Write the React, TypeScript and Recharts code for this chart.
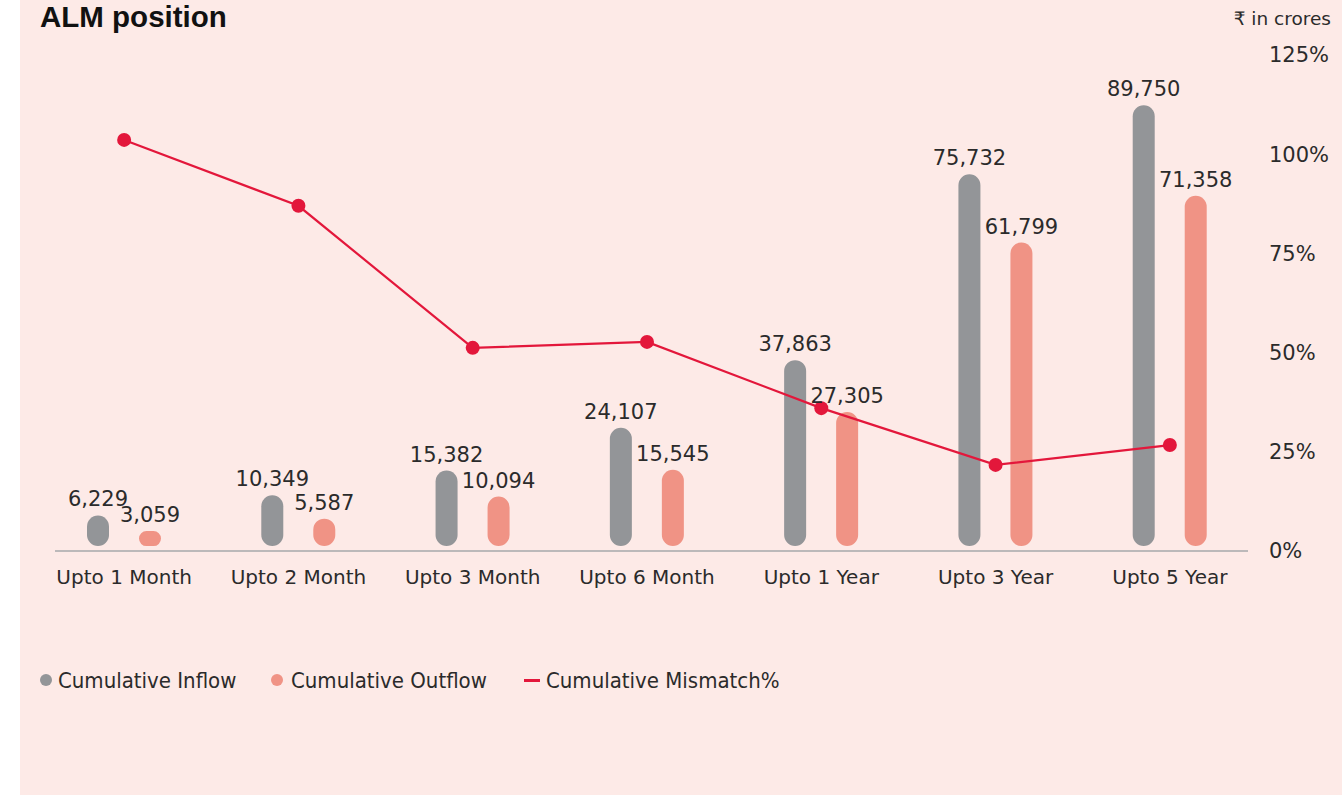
import React from 'react';
import { ComposedChart, Bar, Line, XAxis, YAxis, LabelList, Legend } from 'recharts';

const categories = ['Upto 1 Month', 'Upto 2 Month', 'Upto 3 Month', 'Upto 6 Month', 'Upto 1 Year', 'Upto 3 Year', 'Upto 5 Year'];
const inflow = [6229, 10349, 15382, 24107, 37863, 75732, 89750];
const outflow = [3059, 5587, 10094, 15545, 27305, 61799, 71358];
const mismatch = [103.6, 87.0, 51.2, 52.7, 36.0, 21.7, 26.7];
const percentTicks = [0, 25, 50, 75, 100, 125];

const data = categories.map((name, i) => ({
  name,
  inflow: inflow[i],
  outflow: outflow[i],
  mismatch: mismatch[i],
}));

const GRAY = '#939598';
const SALMON = '#f09385';
const RED = '#e3173b';
const TEXT = '#2b2b2b';
const BG = '#fdeae7';
const FONT = '"DejaVu Sans", sans-serif';

const fmt = (v: number) => v.toLocaleString('en-US');

const LegendContent = () => (
  <div style={{ position: 'relative', height: 30, fontFamily: '"DejaVu Sans Condensed", "DejaVu Sans", sans-serif', fontSize: 22, color: TEXT }}>
    <div style={{ position: 'absolute', left: 40, top: 0, display: 'flex', alignItems: 'center', height: 30 }}>
      <span style={{ width: 12, height: 12, borderRadius: 6, background: GRAY, display: 'inline-block', marginRight: 6 }} />
      <span>Cumulative Inflow</span>
    </div>
    <div style={{ position: 'absolute', left: 271, top: 0, display: 'flex', alignItems: 'center', height: 30 }}>
      <span style={{ width: 12, height: 12, borderRadius: 6, background: SALMON, display: 'inline-block', marginRight: 8 }} />
      <span>Cumulative Outflow</span>
    </div>
    <div style={{ position: 'absolute', left: 524, top: 0, display: 'flex', alignItems: 'center', height: 30 }}>
      <span style={{ width: 16, height: 3, background: RED, display: 'inline-block', marginRight: 6 }} />
      <span>Cumulative Mismatch%</span>
    </div>
  </div>
);

export default function App() {
  return (
    <div style={{ position: 'absolute', left: 0, top: 0, width: 1342, height: 795, background: '#ffffff', overflow: 'hidden', fontFamily: FONT }}>
      <div style={{ position: 'absolute', left: 20, top: 0, width: 1322, height: 795, background: BG }} />
      <div style={{ position: 'absolute', left: 40, top: 0, fontFamily: '"Liberation Sans", Arial, sans-serif', fontWeight: 700, fontSize: 29.5, lineHeight: '34px', color: '#111' }}>
        ALM position
      </div>
      <div style={{ position: 'absolute', right: 11, top: 8, fontSize: 18.5, lineHeight: '22px', color: TEXT }}>
        ₹ in crores
      </div>
      <div style={{ position: 'absolute', left: 0, top: 0 }}>
        <ComposedChart
          width={1342}
          height={795}
          data={data}
          margin={{ top: 55, right: 0, left: 37, bottom: 174 }}
          barSize={22}
          barGap={30}
        >
          <XAxis
            dataKey="name"
            height={40}
            axisLine={{ stroke: '#a7a9ac', strokeWidth: 1.5, strokeDasharray: '0 18 1193 100' }}
            tickLine={false}
            tickSize={0}
            tickMargin={19}
            tick={{ fill: TEXT, fontSize: 20, fontFamily: FONT }}
            interval={0}
          />
          <YAxis yAxisId="amt" hide type="number" domain={[-1000, 100000]} />
          <YAxis
            yAxisId="pct"
            orientation="right"
            type="number"
            domain={[0, 125]}
            ticks={percentTicks}
            tickFormatter={(v: number) => `${v}%`}
            axisLine={false}
            tickLine={false}
            tickSize={0}
            tickMargin={12}
            width={85}
            tick={{ fill: TEXT, fontSize: 21, fontFamily: FONT }}
          />
          <Legend
            verticalAlign="bottom"
            content={<LegendContent />}
            wrapperStyle={{ position: 'absolute', left: 0, top: 665, width: 1342, height: 30 }}
          />
          <Bar yAxisId="amt" dataKey="inflow" name="Cumulative Inflow" fill={GRAY} radius={[11, 11, 11, 11]} isAnimationActive={false}>
            <LabelList dataKey="inflow" position="top" offset={9} formatter={(v: number) => fmt(v)} style={{ fill: TEXT, fontSize: 21, fontFamily: FONT }} />
          </Bar>
          <Bar yAxisId="amt" dataKey="outflow" name="Cumulative Outflow" fill={SALMON} radius={[11, 11, 11, 11]} isAnimationActive={false}>
            <LabelList dataKey="outflow" position="top" offset={9} formatter={(v: number) => fmt(v)} style={{ fill: TEXT, fontSize: 21, fontFamily: FONT }} />
          </Bar>
          <Line
            yAxisId="pct"
            type="linear"
            dataKey="mismatch"
            name="Cumulative Mismatch%"
            stroke={RED}
            strokeWidth={2.2}
            dot={{ r: 7, fill: RED, stroke: 'none' }}
            activeDot={false}
            isAnimationActive={false}
          />
        </ComposedChart>
      </div>
    </div>
  );
}
